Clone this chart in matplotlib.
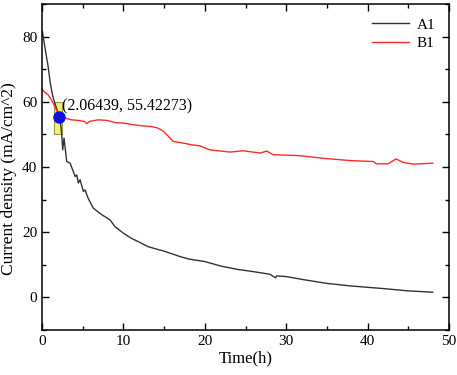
import matplotlib
matplotlib.use("Agg")
import matplotlib.pyplot as plt
from matplotlib.patches import Rectangle
from matplotlib.ticker import MultipleLocator

plt.rcParams['font.family'] = ['Liberation Serif', 'DejaVu Serif']

# A1 series (time h, current density)
a1_t = [0.05, 0.1, 0.4, 0.74, 1.0, 1.15, 1.35, 1.56, 1.84, 2.06, 2.25, 2.42, 2.54, 2.7,
        3.03, 3.44, 3.85, 4.05, 4.26, 4.46, 4.67, 5.08, 5.28, 5.65, 6.3, 7.1, 7.7, 8.35,
        8.97, 10, 11, 12, 13, 14.1, 15, 17, 18, 20, 22, 24, 26, 28, 28.7, 28.8, 30, 32,
        35, 38, 40, 42, 45, 48]
a1_v = [81.5, 80.7, 76.0, 71.0, 66.0, 63.8, 61.5, 59.7, 57.6, 55.4, 54.0, 49.9, 45.3, 48.9,
        41.7, 41.2, 38.6, 37.1, 37.6, 35.1, 36.1, 32.5, 33.0, 30.5, 27.4, 25.8, 24.8, 23.8,
        21.7, 19.7, 18.1, 16.9, 15.6, 14.8, 14.2, 12.5, 11.8, 11.0, 9.6, 8.6, 7.9, 7.1, 6.0, 6.6,
        6.4, 5.5, 4.3, 3.5, 3.1, 2.7, 2.0, 1.6]

# B1 series
b1_t = [0.05, 0.3, 0.74, 1.0, 1.35, 1.76, 2.06, 2.4, 3.0, 3.6, 4.5, 5.2, 5.5, 5.8, 6.9,
        8.0, 9.1, 10, 11.2, 12.5, 13.3, 14.2, 14.9, 15.5, 16.1, 17.7, 18.2, 19.4, 20.6,
        23.1, 24.7, 26.8, 27.6, 28.4, 31.7, 34.5, 37.8, 40.7, 41.1, 42.5, 43.5, 44.4,
        45.6, 48.0]
b1_v = [63.8, 63.0, 62.2, 61.2, 59.7, 57.6, 56.6, 55.6, 54.9, 54.5, 54.3, 54.0, 53.3, 54.0, 54.5,
        54.3, 53.6, 53.5, 53.0, 52.6, 52.5, 52.0, 51.0, 49.5, 47.9, 47.2, 46.9, 46.5, 45.3,
        44.6, 45.0, 44.3, 44.9, 43.8, 43.5, 42.7, 42.0, 41.7, 41.0, 41.0, 42.5, 41.4,
        40.9, 41.2]

pt_x, pt_y = 2.06439, 55.42273
box_x, box_y, box_w, box_h = 1.5, 50.0, 0.95, 10.0

fig = plt.figure(figsize=(4.57, 3.75), dpi=100)
ax = fig.add_axes([0.092, 0.12, 0.8905, 0.869])

ax.add_patch(Rectangle((box_x, box_y), box_w, box_h, facecolor='#f3ee7a',
                       edgecolor='#9a9a40', linewidth=0.8, zorder=1))
ax.plot(a1_t, a1_v, color='#333333', lw=1.0, label='A1', zorder=2)
ax.plot(b1_t, b1_v, color='#ff2a2a', lw=1.0, label='B1', zorder=2)
ax.plot([pt_x], [pt_y], 'o', color='#1010e0', ms=8, zorder=3)
ax.text(2.45, 58.6, '(2.06439, 55.42273)', fontsize=11.5, ha='left', va='center', zorder=4)

ax.set_xlim(0, 50)
ax.set_ylim(-10, 90)
ax.xaxis.set_major_locator(MultipleLocator(10))
ax.xaxis.set_minor_locator(MultipleLocator(5))
ax.yaxis.set_major_locator(MultipleLocator(20))
ax.yaxis.set_minor_locator(MultipleLocator(10))
ax.tick_params(which='both', direction='in', top=True, right=True, labelsize=11, width=1.0)
ax.tick_params(which='major', length=5)
ax.tick_params(which='minor', length=3)
for s in ax.spines.values():
    s.set_linewidth(1.1)

ax.set_xlabel('Time(h)', fontsize=12, labelpad=2)
ax.set_ylabel('Current density (mA/cm^2)', fontsize=12.5)
ax.yaxis.set_label_coords(-0.062, 0.463)

ax.legend(loc='upper right', frameon=False, fontsize=11, handlelength=2.4,
          handletextpad=0.5, borderaxespad=0.5, labelspacing=0.3)

fig.savefig('out.png', dpi=100)
